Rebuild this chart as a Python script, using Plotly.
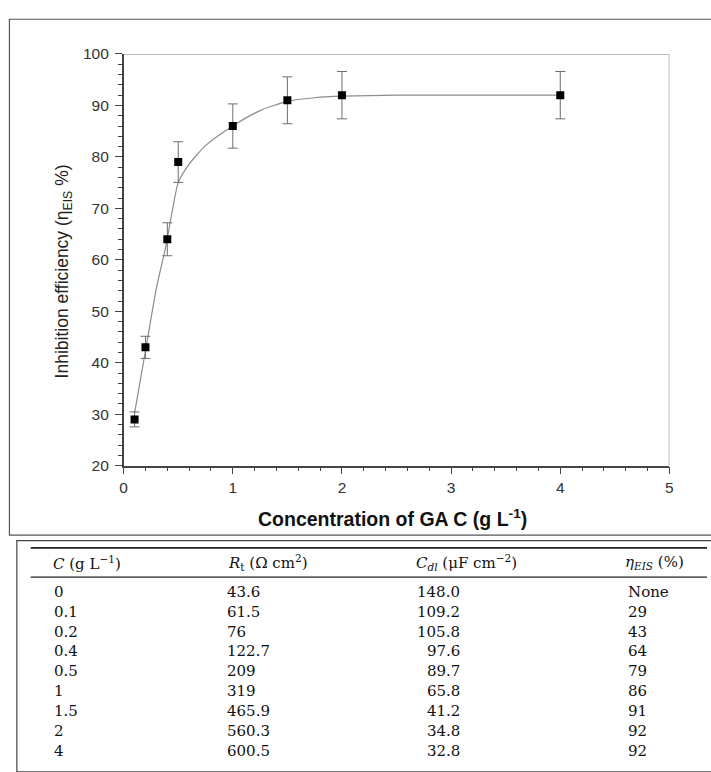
import plotly.graph_objects as go

W, H = 711, 772

# ---------------- data ----------------
conc = [0.1, 0.2, 0.4, 0.5, 1, 1.5, 2, 4]
eff = [29, 43, 64, 79, 86, 91, 92, 92]
eff_err = [1.45, 2.15, 3.2, 3.95, 4.3, 4.55, 4.6, 4.6]

fit_x = [0.1, 0.2, 0.3, 0.38, 0.45, 0.5, 0.6, 0.75, 1.0, 1.25, 1.5, 1.75, 2.0, 2.5, 3.0, 4.0]
fit_y = [30.2, 42.3, 54.5, 62, 70, 75, 78.6, 82.2, 86, 89, 90.8, 91.5, 91.8, 92, 92, 92]

x_ticks = [0, 1, 2, 3, 4, 5]
y_ticks = [20, 30, 40, 50, 60, 70, 80, 90, 100]

table_headers = ["<i>C</i> (g L<sup>−1</sup>)",
                 "<i>R</i><sub>t</sub> (Ω cm<sup>2</sup>)",
                 "<i>C<sub>dl</sub></i> (μF cm<sup>−2</sup>)",
                 "<i>η<sub>EIS</sub></i> (%)"]
table_c = ["0", "0.1", "0.2", "0.4", "0.5", "1", "1.5", "2", "4"]
table_rt = ["43.6", "61.5", "76", "122.7", "209", "319", "465.9", "560.3", "600.5"]
table_cdl = ["148.0", "109.2", "105.8", "97.6", "89.7", "65.8", "41.2", "34.8", "32.8"]
table_eta = ["None", "29", "43", "64", "79", "86", "91", "92", "92"]


def px(x):
    return x / W


def py(y):
    return 1 - y / H


fig = go.Figure()

fig.add_trace(go.Scatter(
    x=fit_x, y=fit_y, mode="lines",
    line=dict(color="#8c8c8c", width=1.2, shape="spline", smoothing=0.6),
    showlegend=False, hoverinfo="skip"))

fig.add_trace(go.Scatter(
    x=conc, y=eff, mode="markers",
    marker=dict(symbol="square", size=8, color="black"),
    error_y=dict(type="data", array=eff_err, color="#6e6e6e", thickness=1, width=5),
    showlegend=False))

axis_common = dict(
    showline=True, linecolor="#444", linewidth=1.5,
    ticks="outside", ticklen=7, tickwidth=1.2, tickcolor="#444",
    showgrid=False, zeroline=False,
    tickfont=dict(family="Liberation Sans, Arial", size=15.5, color="#333"),
)

fig.update_layout(
    width=W, height=H,
    margin=dict(l=0, r=0, t=0, b=0),
    paper_bgcolor="white", plot_bgcolor="white",
    xaxis=dict(range=[0, 5], domain=[px(121), px(673)], anchor="y",
               tickvals=x_ticks,
               minor=dict(dtick=0.2, tick0=0, ticks="outside", ticklen=4, tickcolor="#444", tickwidth=1.2),
               **axis_common),
    yaxis=dict(range=[20, 100], domain=[py(467), py(46)], anchor="x",
               tickvals=y_ticks, ticklabelstandoff=3,
               minor=dict(dtick=2, tick0=20, ticks="outside", ticklen=4, tickcolor="#444", tickwidth=1.2),
               **axis_common),
)

shapes = []
# top and right plot frame (grey)
shapes.append(dict(type="line", xref="x", yref="y", x0=0, x1=5, y0=100, y1=100,
                   line=dict(color="#a8a8a8", width=1.5)))
shapes.append(dict(type="line", xref="x", yref="y", x0=5, x1=5, y0=20, y1=100,
                   line=dict(color="#a8a8a8", width=1.5)))
# outer boxes
shapes.append(dict(type="rect", xref="paper", yref="paper",
                   x0=px(5.5), x1=px(716), y0=py(538), y1=py(10.5),
                   line=dict(color="#555", width=1.2)))
shapes.append(dict(type="rect", xref="paper", yref="paper",
                   x0=px(13), x1=px(716), y0=py(780), y1=py(543.5),
                   line=dict(color="#444", width=1.2)))
# table rules
shapes.append(dict(type="line", xref="paper", yref="paper",
                   x0=px(27), x1=px(711), y0=py(551), y1=py(551),
                   line=dict(color="#222", width=1.6)))
shapes.append(dict(type="line", xref="paper", yref="paper",
                   x0=px(27), x1=px(711), y0=py(581), y1=py(581),
                   line=dict(color="#222", width=1.3)))
fig.update_layout(shapes=shapes)

annotations = []
# axis titles
annotations.append(dict(
    xref="paper", yref="paper", x=px(393), y=py(520),
    text="<b>Concentration of GA C (g L<sup>-1</sup>)</b>", showarrow=False,
    xanchor="center", yanchor="middle",
    font=dict(family="Liberation Sans, Arial", size=19.5, color="#111")))
annotations.append(dict(
    xref="paper", yref="paper", x=px(60), y=py(268),
    text="Inhibition efficiency (η<sub>EIS</sub> %)", showarrow=False,
    textangle=-90, xanchor="center", yanchor="middle",
    font=dict(family="Liberation Sans, Arial", size=17.5, color="#222")))

tfont = dict(family="DejaVu Serif", size=15, color="#111")
header_x = [48, 225, 415, 626]
for hx, htxt in zip(header_x, table_headers):
    annotations.append(dict(xref="paper", yref="paper", x=px(hx), y=py(566),
                            text=htxt, showarrow=False, xanchor="left", yanchor="middle",
                            font=tfont))

for i in range(len(table_c)):
    ry = py(596 + i * 20.3)
    annotations.append(dict(xref="paper", yref="paper", x=px(49), y=ry, text=table_c[i],
                            showarrow=False, xanchor="left", yanchor="middle", font=tfont))
    annotations.append(dict(xref="paper", yref="paper", x=px(224), y=ry, text=table_rt[i],
                            showarrow=False, xanchor="left", yanchor="middle", font=tfont))
    annotations.append(dict(xref="paper", yref="paper", x=px(463), y=ry, text=table_cdl[i],
                            showarrow=False, xanchor="right", yanchor="middle", font=tfont))
    annotations.append(dict(xref="paper", yref="paper", x=px(629), y=ry, text=table_eta[i],
                            showarrow=False, xanchor="left", yanchor="middle", font=tfont))

fig.update_layout(annotations=annotations)

fig.write_html("out.html")
